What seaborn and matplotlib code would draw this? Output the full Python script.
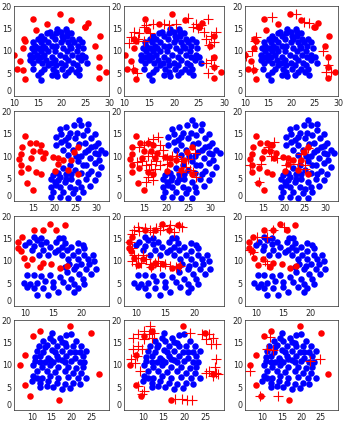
import matplotlib
matplotlib.use("Agg")
import matplotlib.pyplot as plt
import seaborn as sns
import pandas as pd

# ---------------- Row 1 data ----------------
r1_blue_x = [19.1, 20.9, 17.5, 19.9, 21.1, 17.0, 18.9, 22.0, 15.7, 17.9, 20.1, 21.1,
             15.1, 16.4, 18.7, 20.4, 22.3, 23.6, 14.1, 15.6, 17.1, 19.9, 21.3, 22.7, 24.3,
             14.4, 16.1, 17.9, 18.9, 21.8, 23.4, 13.7, 15.1, 16.6, 20.4, 22.1, 24.6,
             14.3, 15.7, 17.1, 18.6, 21.1, 23.2, 13.4, 14.9, 16.4, 19.6, 22.3, 24.3,
             14.1, 15.6, 17.9, 20.7, 23.4, 25.0, 13.4, 15.0, 16.8, 18.7, 21.4, 24.1,
             14.1, 15.9, 17.7, 19.9, 22.5, 25.4, 17.1, 18.9, 20.7, 23.2,
             13.9, 16.4, 18.2, 20.1, 22.1, 23.6, 15.7, 18.9, 21.4, 23.0,
             15.0, 17.9, 20.7, 23.7, 19.1, 15.6]
r1_blue_y = [15.0, 15.0, 14.3, 14.3, 14.3, 14.0, 14.0, 14.0, 13.3, 13.3, 13.3, 13.3,
             12.6, 12.6, 12.6, 12.6, 12.6, 12.6, 12.0, 12.0, 12.0, 12.0, 12.0, 12.0, 12.0,
             11.2, 11.2, 11.2, 11.2, 11.2, 11.2, 10.6, 10.6, 10.6, 10.6, 10.6, 10.6,
             9.9, 9.9, 9.9, 9.9, 9.9, 9.9, 9.2, 9.2, 9.2, 9.2, 9.2, 9.2,
             8.7, 8.7, 8.7, 8.7, 8.7, 8.7, 8.0, 8.0, 8.0, 8.0, 8.0, 8.0,
             7.3, 7.3, 7.3, 7.3, 7.3, 7.3, 6.8, 6.8, 6.8, 6.8,
             5.9, 5.9, 5.9, 5.9, 5.9, 5.9, 5.4, 5.4, 5.4, 5.4,
             4.7, 4.7, 4.7, 4.7, 4.5, 3.6]
r1_red_x = [19.6, 14.1, 17.0, 22.1, 24.9, 25.6, 25.0, 14.6, 12.0, 12.3, 28.0, 27.1,
            11.9, 10.1, 11.3, 27.9, 10.6, 11.9, 27.9, 29.3, 12.3, 27.9]
r1_red_y = [18.2, 17.2, 16.0, 17.0, 15.3, 16.3, 15.3, 14.7, 12.6, 12.2, 13.4, 11.2,
            10.6, 9.2, 7.8, 8.7, 5.9, 5.7, 6.4, 5.4, 3.7, 4.1]
r1_plus_b_x = [22.7, 20.3, 19.0, 17.9, 15.7, 14.3, 14.0, 12.0, 13.0, 15.2, 11.3, 12.7,
               13.9, 11.0, 26.7, 24.3, 25.3, 24.8, 26.0, 27.3, 26.3, 28.0, 27.0, 27.3,
               26.3, 28.0, 26.7, 12.5, 11.7, 23.7, 28.3]
r1_plus_b_y = [17.4, 16.0, 15.8, 16.0, 16.1, 15.8, 15.3, 14.3, 14.0, 14.0, 13.1, 12.6,
               12.2, 11.7, 17.2, 16.1, 15.8, 15.1, 14.3, 13.3, 12.6, 11.9, 11.3, 8.0,
               7.3, 6.6, 5.2, 5.2, 5.9, 15.4, 14.3]
r1_plus_c_x = [15.8, 21.0, 23.7, 12.4, 12.1, 11.4, 10.3, 11.7, 26.8, 27.8, 27.5, 28.5, 22.6]
r1_plus_c_y = [17.5, 18.2, 16.3, 13.2, 12.3, 10.0, 8.9, 6.1, 10.0, 6.8, 5.4, 5.4, 16.4]

# ---------------- Row 2 data ----------------
r2_blue_x = [25.8, 24.7, 26.4, 22.9, 21.3, 27.8, 23.7, 25.5, 21.7, 26.8, 29.6, 20.5,
             23.3, 24.9, 28.7, 21.7, 27.2, 30.4, 20.5, 23.3, 28.8, 22.1, 24.5, 31.2,
             27.2, 32.0, 29.6, 28.4, 26.4, 30.6, 25.7, 27.6, 29.6, 31.2, 23.7, 22.1,
             24.9, 28.8, 26.4, 30.4, 20.9, 22.9, 19.3, 21.3, 24.1, 27.6, 29.6, 20.1,
             22.5, 25.7, 19.3, 21.3, 23.7, 26.4, 28.4, 19.7, 22.1, 24.5, 26.8, 21.3,
             23.3, 25.7, 19.3, 28.0, 22.6, 26.0, 28.0, 29.6, 30.4, 26.8, 24.1, 28.0,
             20.5, 24.9, 22.9, 21.0, 25.2, 23.3, 19.7]
r2_blue_y = [17.9, 16.8, 16.8, 16.4, 16.1, 15.7, 15.2, 15.2, 14.9, 14.6, 14.9, 14.3,
             14.3, 13.9, 13.9, 13.2, 13.0, 13.0, 12.5, 12.5, 12.0, 11.4, 11.4, 11.4,
             10.9, 10.7, 10.7, 9.6, 9.9, 9.1, 8.8, 8.1, 8.4, 7.5, 8.1, 7.4,
             7.0, 6.6, 6.3, 5.9, 6.3, 5.9, 5.0, 5.4, 5.0, 5.0, 4.6, 4.3,
             4.3, 4.3, 3.2, 3.2, 3.2, 3.2, 3.4, 2.0, 2.0, 1.8, 2.0, 1.0,
             0.6, 0.6, 1.0, 17.1, 13.6, 12.7, 11.4, 12.3, 10.4, 8.1, 5.9, 5.9,
             3.6, 2.7, 5.0, 4.6, 9.9, 10.2, 5.7]
r2_red_x = [13.2, 15.8, 14.2, 12.4, 17.0, 15.0, 16.6, 17.9, 12.2, 11.8, 14.6, 17.4,
            19.7, 20.9, 22.1, 24.1, 12.2, 13.8, 12.2, 15.8, 17.0, 13.6, 15.0, 20.9,
            23.3, 25.7, 20.1, 25.7, 24.7]
r2_red_y = [14.5, 12.9, 12.9, 12.1, 12.4, 11.1, 11.1, 10.7, 10.4, 9.4, 9.6, 9.5,
            9.7, 9.5, 9.1, 9.1, 7.9, 7.3, 6.4, 6.4, 6.1, 3.9, 2.5, 8.2,
            7.0, 11.9, 6.6, 6.1, 10.9]
r2_plus_b_x = [18.2, 17.0, 15.8, 15.0, 13.8, 18.6, 19.3, 19.3, 20.1, 21.3, 22.1, 23.3,
               24.9, 26.4, 24.5, 25.3, 26.0, 26.8, 23.3, 17.8, 16.6, 15.4, 14.6, 13.4,
               17.4, 16.2, 15.8, 17.0, 15.4, 18.6, 20.1, 22.5, 15.8, 16.8]
r2_plus_b_y = [14.3, 13.7, 13.2, 12.5, 12.1, 12.5, 11.4, 10.0, 9.6, 10.0, 9.3, 8.9,
               9.3, 10.7, 7.5, 6.8, 6.4, 5.4, 6.4, 8.9, 8.2, 7.9, 8.9, 8.6,
               7.1, 6.8, 5.4, 4.6, 4.3, 7.9, 8.2, 10.0, 10.0, 10.7]
r2_plus_c_x = [16.3, 16.7, 18.3, 20.3, 21.5, 24.0, 23.4, 25.0, 25.8, 25.0, 14.4, 11.6,
               14.0, 17.5, 16.0]
r2_plus_c_y = [11.4, 10.0, 9.6, 7.9, 8.2, 10.4, 8.2, 7.9, 11.8, 7.1, 8.2, 7.9,
               4.3, 13.2, 12.1]

# ---------------- Row 3 data ----------------
r3_blue_x = [11.5, 12.9, 16.1, 16.8, 10.6, 12.1, 13.8, 15.6, 17.1, 19.4, 10.0, 11.5,
             12.9, 14.4, 16.5, 18.2, 20.3, 11.2, 13.2, 15.3, 17.4, 19.4, 12.4, 14.1,
             16.5, 18.5, 20.6, 22.1, 17.6, 19.4, 21.2, 22.4, 17.9, 20.0, 18.8, 20.9,
             22.6, 17.4, 19.7, 21.8, 10.3, 11.5, 12.9, 14.4, 16.2, 18.2, 20.3, 9.7,
             10.9, 12.1, 13.5, 15.0, 16.8, 18.8, 20.6, 10.3, 11.5, 13.2, 15.0, 17.6,
             19.4, 12.1, 14.1, 15.9, 18.8, 20.6, 19.1, 17.1, 15.9, 21.5]
r3_blue_y = [15.4, 15.1, 15.1, 15.2, 14.3, 14.6, 14.3, 14.3, 13.9, 14.1, 13.6, 13.4,
             13.7, 13.2, 13.2, 13.2, 13.6, 12.5, 12.5, 12.1, 12.5, 12.3, 11.4, 11.4,
             11.4, 11.4, 11.4, 11.4, 10.4, 10.4, 10.4, 10.1, 9.3, 9.3, 8.2, 8.2,
             8.2, 7.5, 7.1, 7.1, 6.8, 6.8, 6.6, 6.8, 6.4, 6.1, 6.1, 5.1,
             5.0, 5.1, 5.6, 5.4, 5.4, 5.0, 5.0, 4.3, 3.9, 3.9, 4.3, 4.3,
             3.9, 2.5, 2.5, 3.2, 3.2, 12.9, 8.9, 8.6, 12.5, 9.3]
r3_red_x = [14.4, 17.1, 11.5, 13.2, 15.6, 9.4, 8.8, 8.8, 9.2, 9.7, 11.2, 10.3,
            13.2, 14.7, 12.6, 16.2, 17.4]
r3_red_y = [18.2, 17.9, 17.0, 17.0, 16.8, 15.4, 14.3, 12.9, 12.3, 10.7, 10.4, 9.1,
            9.6, 9.3, 8.6, 8.4, 8.9]
r3_plus_b_x = [9.7, 10.6, 11.5, 12.4, 13.5, 14.1, 14.7, 15.6, 16.5, 17.4, 17.9, 15.9,
               9.4, 10.3, 12.9, 9.1, 9.4, 9.7, 9.4, 10.3, 10.9, 11.8, 12.4, 13.2,
               14.1, 15.0, 15.9, 16.8, 11.2, 10.0, 17.6, 12.6, 13.8]
r3_plus_b_y = [17.0, 16.6, 17.4, 16.9, 17.4, 16.9, 17.7, 17.1, 16.4, 17.7, 17.5, 17.9,
               16.1, 17.5, 16.4, 14.3, 12.9, 11.4, 10.0, 10.7, 9.6, 10.4, 9.3, 9.6,
               8.9, 9.3, 8.9, 8.6, 11.4, 9.3, 8.9, 8.6, 10.0]
r3_plus_c_x = [10.2, 8.9, 9.4, 11.7, 12.0, 13.2, 15.2, 12.0]
r3_plus_c_y = [15.4, 12.5, 12.1, 10.1, 9.3, 17.0, 17.5, 15.4]

# ---------------- Row 4 data ----------------
r4_blue_x = [15.0, 14.6, 18.75, 19.9, 17.1, 12.9, 15.4, 17.5, 21.25, 11.7, 13.75, 16.25,
             18.75, 20.4, 22.5, 11.25, 12.9, 15.0, 17.5, 19.6, 22.1, 12.1, 14.2, 16.25,
             18.75, 20.8, 22.9, 10.8, 13.3, 15.4, 17.5, 20.0, 22.1, 10.4, 12.5, 14.6,
             16.7, 19.2, 21.25, 22.9, 11.25, 13.75, 15.8, 18.3, 20.4, 22.5, 10.4, 12.5,
             14.6, 16.7, 19.2, 21.7, 10.0, 12.1, 14.2, 16.25, 18.3, 20.4, 22.1, 13.75,
             15.4, 17.5, 12.1, 19.6, 10.8, 20.8, 15.8, 13.3, 18.3, 23.75, 23.3, 12.1,
             18.3, 11.25, 23.75, 16.7, 14.6]
r4_blue_y = [17.1, 16.1, 16.6, 16.8, 16.1, 15.4, 15.4, 15.1, 15.4, 14.3, 14.4, 14.3,
             14.3, 14.3, 14.3, 13.2, 12.9, 13.4, 13.2, 12.9, 12.9, 12.1, 11.6, 12.1,
             12.1, 11.6, 12.0, 10.9, 10.7, 10.7, 11.1, 10.9, 10.7, 10.0, 9.6, 9.9,
             9.6, 9.6, 9.4, 9.6, 8.7, 8.6, 8.4, 8.6, 8.2, 8.2, 7.5, 7.1,
             7.5, 7.1, 7.3, 7.1, 6.4, 6.1, 6.4, 6.1, 5.7, 6.1, 5.7, 5.4,
             5.1, 4.6, 5.1, 5.0, 11.8, 12.9, 12.9, 13.9, 15.0, 13.2, 10.7, 10.7,
             10.7, 7.1, 7.1, 11.4, 11.1]
r4_red_x = [19.75, 12.1, 10.4, 25.0, 8.3, 6.9, 8.3, 9.6, 16.9, 26.9]
r4_red_y = [18.6, 17.5, 16.4, 17.1, 12.3, 10.0, 5.6, 3.2, 2.3, 7.9]
r4_plus_b_x = [11.8, 10.2, 8.9, 7.7, 11.4, 12.7, 12.25, 10.2, 8.9, 7.7, 9.75, 8.5,
               7.25, 8.1, 9.3, 8.9, 10.2, 9.75, 17.7, 19.3, 20.6, 21.8, 21.4, 24.3,
               25.9, 26.8, 25.2, 27.7, 26.4, 27.7, 27.25, 26.0, 27.7, 26.8, 28.0, 25.2]
r4_plus_b_y = [18.6, 17.5, 16.8, 16.1, 16.8, 17.1, 16.1, 15.7, 14.3, 13.6, 13.6, 12.1,
               11.4, 10.4, 8.6, 5.4, 4.3, 3.6, 2.5, 2.5, 2.3, 2.3, 17.1, 16.8,
               16.8, 16.1, 15.7, 14.6, 14.6, 11.4, 9.6, 8.6, 8.2, 7.5, 7.9, 8.2]
r4_plus_c_x = [11.9, 11.1, 12.75, 24.8, 22.3, 6.75, 9.4, 14.0]
r4_plus_c_y = [16.3, 13.6, 13.4, 11.4, 10.9, 8.6, 3.2, 3.2]

# axis ranges / ticks per row
row_xlim = [(10, 30), (10.5, 33), (8, 25), (5.5, 29.5)]
row_xticks = [[10, 15, 20, 25, 30], [15, 20, 25, 30], [10, 15, 20], [10, 15, 20, 25]]
y_ticks = [0, 5, 10, 15, 20]

rows = [
    (r1_blue_x, r1_blue_y, r1_red_x, r1_red_y, r1_plus_b_x, r1_plus_b_y, r1_plus_c_x, r1_plus_c_y),
    (r2_blue_x, r2_blue_y, r2_red_x, r2_red_y, r2_plus_b_x, r2_plus_b_y, r2_plus_c_x, r2_plus_c_y),
    (r3_blue_x, r3_blue_y, r3_red_x, r3_red_y, r3_plus_b_x, r3_plus_b_y, r3_plus_c_x, r3_plus_c_y),
    (r4_blue_x, r4_blue_y, r4_red_x, r4_red_y, r4_plus_b_x, r4_plus_b_y, r4_plus_c_x, r4_plus_c_y),
]

sns.set_style("white")
plt.rcParams['font.family'] = ['DejaVu Sans']

W, H = 345, 426
fig = plt.figure(figsize=(W / 100, H / 100), dpi=100)

col_left = [14, 124, 245]
col_w = [95, 100, 93]
row_top = [6, 111, 216, 320]
ax_h = 90

BLUE = "#0000ff"
RED = "#ff0000"

for r, (bx, by, rx, ry, pbx, pby, pcx, pcy) in enumerate(rows):
    for c in range(3):
        ax = fig.add_axes([col_left[c] / W, 1 - (row_top[r] + ax_h) / H,
                           col_w[c] / W, ax_h / H])
        sns.scatterplot(x=bx, y=by, ax=ax, color=BLUE, s=22, linewidth=0,
                        marker="o", legend=False)
        sns.scatterplot(x=rx, y=ry, ax=ax, color=RED, s=22, linewidth=0,
                        marker="o", legend=False)
        if c == 1:
            sns.scatterplot(x=pbx, y=pby, ax=ax, color=RED, s=50, linewidth=0.8,
                            marker="+", legend=False)
        elif c == 2:
            sns.scatterplot(x=pcx, y=pcy, ax=ax, color=RED, s=50, linewidth=0.8,
                            marker="+", legend=False)
        ax.set_xlim(*row_xlim[r])
        ax.set_ylim(0, 20)
        ax.set_xticks(row_xticks[r])
        ax.set_yticks(y_ticks)
        ax.tick_params(direction="in", length=2, width=0.5, labelsize=5.8,
                       colors="#262626", labelcolor="#262626")
        ax.tick_params(axis="x", pad=2.5)
        ax.tick_params(axis="y", pad=1.5)
        # the "0" label sits just above the lower corner, as in the reference
        ax.get_yticklabels()[0].set_verticalalignment("bottom")
        for sp in ax.spines.values():
            sp.set_linewidth(0.5)
            sp.set_color("#262626")
        ax.set_xlabel("")
        ax.set_ylabel("")

fig.savefig("out.png", dpi=100)
